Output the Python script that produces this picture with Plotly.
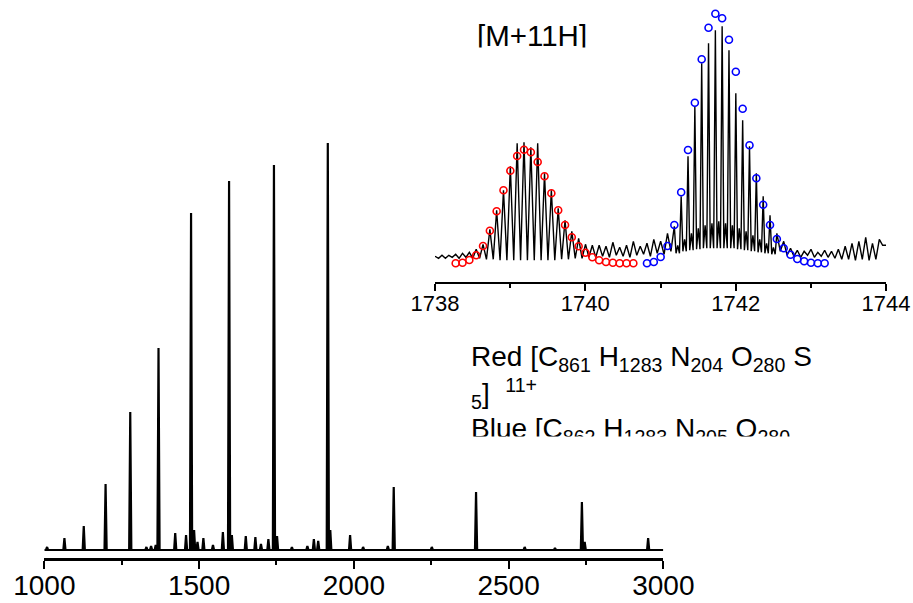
import plotly.graph_objects as go

W, H = 913, 603
FONT = "Liberation Sans, Arial, Helvetica, sans-serif"

# ---------------- main spectrum (m/z, relative intensity) ----------------
main_mz = [1009, 1065, 1127.5, 1198, 1277.7, 1330, 1345, 1360, 1369, 1423, 1458, 1474.2, 1484,
           1495, 1514, 1545, 1577, 1597, 1606, 1651, 1682, 1700, 1724, 1742, 1752, 1800, 1850,
           1871, 1885, 1916, 1924, 1988, 2030, 2110, 2129, 2252, 2395, 2552, 2650, 2737, 2746, 2951]
main_int = [3, 12, 24, 66, 138, 3, 4, 5, 202, 17, 15, 337, 20,
            8, 12, 5, 18, 369, 15, 14, 13, 6, 11, 385, 14, 3, 4,
            11, 9, 407, 20, 15, 3, 4, 63, 3, 58, 3, 2, 48, 8, 12]

main_ticks = [1000, 1500, 2000, 2500, 3000]

# ---------------- inset: isotope-resolved [M+11H] region ----------------
inset_mz = [1738.002, 1738.093, 1738.184, 1738.275, 1738.366, 1738.457, 1738.548, 1738.639,
            1738.730, 1738.820, 1738.911, 1739.002, 1739.093, 1739.184, 1739.275, 1739.366,
            1739.457, 1739.548, 1739.639, 1739.730, 1739.820, 1739.911, 1740.002, 1740.093,
            1740.184, 1740.275, 1740.366, 1740.457, 1740.548, 1740.639, 1740.730, 1740.820,
            1740.911, 1741.002, 1741.093, 1741.184, 1741.275, 1741.366, 1741.457, 1741.548,
            1741.639, 1741.730, 1741.820, 1741.911, 1742.002, 1742.093, 1742.184, 1742.275,
            1742.366, 1742.457, 1742.548, 1742.639, 1742.730, 1742.820, 1742.911, 1743.002,
            1743.093, 1743.184, 1743.275, 1743.366, 1743.457, 1743.548, 1743.639, 1743.730,
            1743.820, 1743.911]
# experimental spectrum: isotope peak tops, value between peaks, and valley (blue region doublets)
black_top = [7, 8, 8, 9, 10, 11, 14, 19,
             34, 53, 73, 97, 120, 121, 116, 120,
             90, 73, 55, 43, 32, 25, 19, 18,
             18, 17, 21, 16, 18, 22, 17, 20,
             24, 22, 30, 37, 67, 107, 157, 200,
             220, 233, 237, 213, 170, 143, 117, 90,
             67, 48, 30, 22, 15, 13, 12, 14,
             11, 13, 12, 14, 17, 20, 22, 26,
             20, 24]
black_mid = [5, 5, 6, 5, 6, 5, 5, 4,
             4, 3, 3, 3, 3, 3, 3, 3,
             3, 3, 4, 4, 5, 5, 6, 6,
             7, 6, 8, 7, 6, 8, 9, 7,
             10, 9, 12, 18, 24, 30, 35, 38,
             40, 42, 40, 38, 35, 32, 28, 24,
             20, 16, 12, 8, 7, 6, 8, 6,
             7, 6, 5, 4, 4, 3, 4, 3,
             4, 18]
black_low = [None] * 35 + [10, 12, 13, 14, 15, 15, 15, 15, 15, 14, 13, 12, 11, 10, 9] + [None] * 16

# theoretical isotope distributions (open circles)
red_int = [0, 0.6, 3.3, 8, 17.3, 32.6, 52, 73, 92.6, 107.3, 113.6, 111, 101.3, 87,
           70, 53, 38.3, 26, 17, 10.6, 6, 3, 1.3, 0.6, 0, 0, 0]
blue_int = [0, 1.3, 6.3, 17.3, 38.3, 71, 113.3, 160.6, 204, 235.6, 249.6, 245, 223.6, 191.6,
            154.6, 118, 85, 58.6, 38.3, 24.3, 15, 8.6, 4.3, 2, 0.6, 0, 0]
red_mz = inset_mz[3:30]
blue_mz = inset_mz[31:58]

inset_ticks = [1738, 1740, 1742, 1744]

title_text = "[M+11H]"
formula_lines = [
    "Red [C<sub>861</sub> H<sub>1283</sub> N<sub>204</sub> O<sub>280</sub> S",
    "<sub>5</sub>]  <sup>11+</sup>",
    "Blue [C<sub>862</sub> H<sub>1283</sub> N<sub>205</sub> O<sub>280</sub>",
]

# ---------------- build line profiles ----------------
mx, my = [1000], [0]
for m, h in zip(main_mz, main_int):
    mx += [m - 3.5, m, m + 3.5]
    my += [0, h, 0]
mx.append(3000); my.append(0)

bx, by = [1738.0], [7]
for i, m in enumerate(inset_mz):
    bx.append(m); by.append(black_top[i])
    nxt = inset_mz[i + 1] if i + 1 < len(inset_mz) else 1744.0
    if black_low[i] is not None:
        bx += [m + (nxt - m) * 0.25, (m + nxt) / 2, m + (nxt - m) * 0.75]
        by += [black_low[i], black_mid[i], black_low[i]]
    else:
        bx.append((m + nxt) / 2); by.append(black_mid[i])
bx.append(1744.0); by.append(18)

fig = go.Figure()
fig.add_trace(go.Scatter(x=mx, y=my, mode="lines", line=dict(color="black", width=2.2),
                         xaxis="x", yaxis="y", hoverinfo="skip"))
fig.add_trace(go.Scatter(x=bx, y=by, mode="lines", line=dict(color="black", width=1.4),
                         xaxis="x2", yaxis="y2", hoverinfo="skip"))
fig.add_trace(go.Scatter(x=red_mz, y=red_int, mode="markers",
                         marker=dict(symbol="circle-open", size=7, color="#ff0000",
                                     line=dict(width=1.6, color="#ff0000")),
                         xaxis="x2", yaxis="y2", cliponaxis=False))
fig.add_trace(go.Scatter(x=blue_mz, y=blue_int, mode="markers",
                         marker=dict(symbol="circle-open", size=7, color="#0000ff",
                                     line=dict(width=1.6, color="#0000ff")),
                         xaxis="x2", yaxis="y2", cliponaxis=False))
# clipped labels
fig.add_trace(go.Scatter(x=[477], y=[-38.5], mode="text", text=[title_text],
                         textposition="middle right", cliponaxis=True,
                         textfont=dict(size=29.5, color="black", family=FONT),
                         xaxis="x3", yaxis="y3"))
fig.add_trace(go.Scatter(x=[471, 471, 471], y=[-358.9, -396.4, -431.4], mode="text",
                         text=formula_lines, textposition="middle right", cliponaxis=True,
                         textfont=dict(size=28, color="black", family=FONT),
                         xaxis="x4", yaxis="y4"))

def px_x(p):
    return p / W

def px_y(p):
    return 1 - p / H

fig.update_layout(
    width=W, height=H, autosize=False,
    margin=dict(l=0, r=0, t=0, b=0, pad=0, autoexpand=False),
    paper_bgcolor="white", plot_bgcolor="rgba(0,0,0,0)", showlegend=False,
    font=dict(family=FONT, color="black"),
    xaxis=dict(domain=[px_x(44.3), px_x(663.3)], range=[1000, 3000], anchor="y", automargin=False,
               tickvals=main_ticks, ticks="outside", ticklen=8, tickwidth=2, tickcolor="black",
               ticklabelstandoff=-7,
               showline=True, linewidth=2.5, linecolor="black", showgrid=False, zeroline=False,
               tickfont=dict(size=28, family=FONT, color="black"),
               minor=dict(ticks="outside", ticklen=4, tickwidth=2, tickcolor="black",
                          dtick=250, tick0=1000, showgrid=False)),
    yaxis=dict(domain=[px_y(558), px_y(100)], range=[-8, 450], visible=False, anchor="x",
               automargin=False),
    xaxis2=dict(domain=[px_x(435), px_x(886)], range=[1738, 1744], anchor="y2", automargin=False,
                tickvals=inset_ticks, ticks="outside", ticklen=7, tickwidth=1.8, tickcolor="black",
                ticklabelstandoff=-6,
                showline=True, linewidth=2, linecolor="black", showgrid=False, zeroline=False,
                tickfont=dict(size=22, family=FONT, color="black"),
                minor=dict(ticks="outside", ticklen=4, tickwidth=1.8, tickcolor="black",
                           dtick=1, tick0=1738, showgrid=False)),
    yaxis2=dict(domain=[px_y(281.7), px_y(5)], range=[-18.4, 258.3], visible=False, anchor="x2",
                automargin=False),
    xaxis3=dict(domain=[0, 1], range=[0, W], visible=False, anchor="y3", automargin=False),
    yaxis3=dict(domain=[px_y(47.5), 1], range=[-47.5, 0], visible=False, anchor="x3",
                automargin=False),
    xaxis4=dict(domain=[0, 1], range=[0, W], visible=False, anchor="y4", automargin=False),
    yaxis4=dict(domain=[px_y(436.5), px_y(330)], range=[-436.5, -330], visible=False, anchor="x4",
                automargin=False),
)

fig.write_html("out.html", config={"displayModeBar": False},
               post_script="document.body.style.margin='0px';document.body.style.overflow='hidden';")
